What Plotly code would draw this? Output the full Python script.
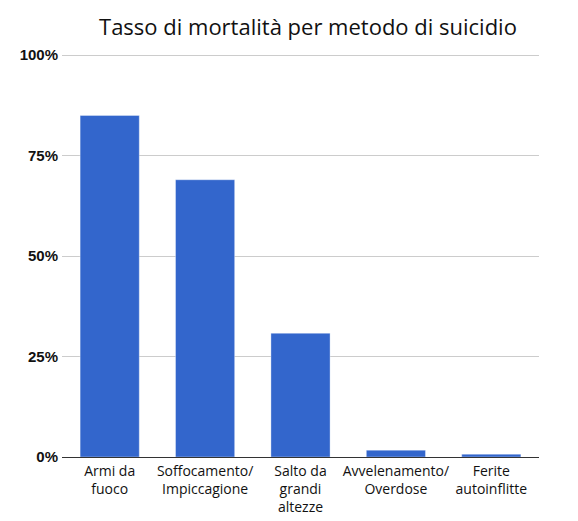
import plotly.graph_objects as go

# mortality rate by suicide method (fraction)
metodi = ["Armi da<br>fuoco", "Soffocamento/<br>Impiccagione", "Salto da<br>grandi<br>altezze",
          "Avvelenamento/<br>Overdose", "Ferite<br>autoinflitte"]
mortalita = [0.85, 0.69, 0.308, 0.017, 0.007]

y_ticks = [0, 0.25, 0.5, 0.75, 1.0]
y_labels = ["0%", "25%", "50%", "75%", "100%"]

fig = go.Figure(go.Bar(
    x=metodi,
    y=mortalita,
    marker=dict(color="#3366cc", line=dict(color="rgba(255,255,255,0.35)", width=1)),
    hoverinfo="x+y",
))

# page body has an 8px margin, so margins are set to compensate
fig.update_layout(
    width=578, height=521,
    margin=dict(l=54, r=47, t=46, b=72),
    paper_bgcolor="white", plot_bgcolor="white",
    bargap=0.38,
    showlegend=False,
    title=dict(
        text="Tasso di mortalità per metodo di suicidio",
        x=0.519, xanchor="center", y=0.962, yanchor="middle",
        font=dict(family="Open Sans", size=22, color="#111"),
    ),
)

fig.update_xaxes(
    showline=True, linecolor="#333", linewidth=1,
    ticks="", tickfont=dict(family="Open Sans", size=14, color="#111"),
    tickangle=0, ticklabelstandoff=1, automargin=False,
)

fig.update_yaxes(
    range=[0, 1.003], tickvals=y_ticks, ticktext=y_labels,
    showgrid=True, gridcolor="#cccccc", zeroline=False,
    tickfont=dict(family="Liberation Sans", size=15, color="#111", weight="bold"),
    ticklabelstandoff=3, automargin=False,
)

fig.write_html("out.html")
